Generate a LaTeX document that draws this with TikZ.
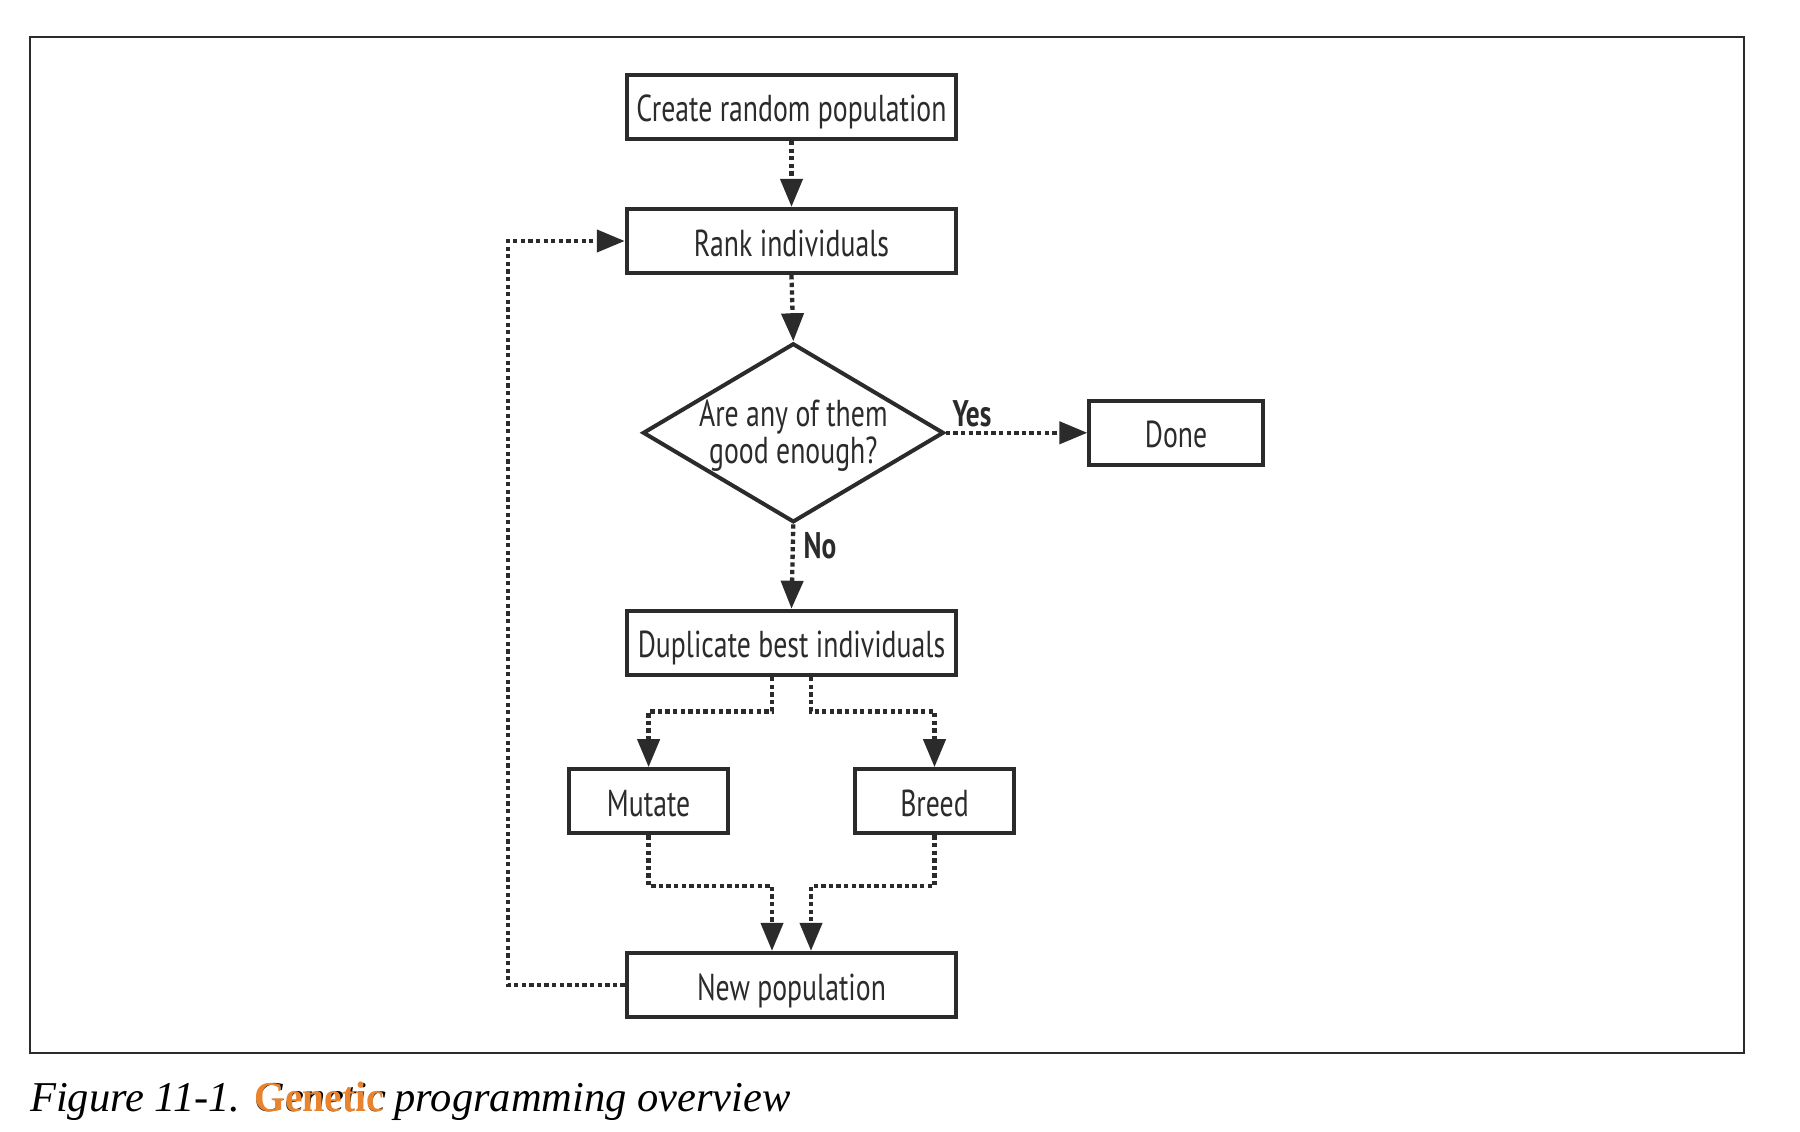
\documentclass[tikz,border=0pt]{standalone}
\usepackage{fontspec}
\usepackage{graphicx}
\setmainfont{Liberation Serif}
\newfontfamily\boxfont{PT Sans}
\usetikzlibrary{arrows.meta,shapes.geometric,calc}
\definecolor{ink}{HTML}{2B2B2B}
\definecolor{orng}{HTML}{E8832E}
\newcommand\condtxt[1]{\scalebox{0.74}[1]{#1}}
\tikzset{
  box/.style={draw=ink, line width=4pt, fill=white, inner sep=0pt,
    minimum height=64.3pt, text height=33pt, text depth=3pt, text=ink,
    font=\boxfont\fontsize{37.5}{38}\selectfont},
  decision/.style={draw=ink, line width=4pt, fill=white, shape=diamond, aspect=1.7, inner sep=0pt,
    minimum width=301pt, minimum height=179pt, text=ink,
    font=\boxfont\fontsize{37.5}{36.7}\selectfont},
  conn/.style={draw=ink, line width=4.3pt, dash pattern=on 4.3pt off 3.3pt,
    -{Triangle[width=22pt,length=28pt]}},
  lbl/.style={text=ink, font=\boxfont\bfseries\fontsize{37}{38}\selectfont, inner sep=0pt},
}
\begin{document}
\begin{tikzpicture}[x=1pt,y=-1pt]
\useasboundingbox (0,0) rectangle (1800,1132);
\fill[white] (0,0) rectangle (1800,1132);
\draw[line width=2pt, draw=ink] (29.8,36.7) rectangle (1743.7,1052.7);

\node[box, minimum width=329.5pt] (create) at (791.5,106.8) {\condtxt{Create random population}};
\node[box, minimum width=329.5pt] (rank) at (791.5,241) {\condtxt{Rank individuals}};
\node[decision] (dec) at (793.3,432.8) {\raisebox{-31pt}[0pt][0pt]{\begin{tabular}[b]{@{}c@{}}\condtxt{Are any of them}\\\condtxt{good enough?}\end{tabular}}};
\node[box, minimum width=173.3pt] (done) at (1176,432.8) {\condtxt{Done}};
\node[box, minimum width=329.5pt] (dup) at (791.5,642.9) {\condtxt{Duplicate best individuals}};
\node[box, minimum width=158.4pt] (mutate) at (648.6,801.3) {\condtxt{Mutate}};
\node[box, minimum width=158.4pt] (breed) at (934.5,801.3) {\condtxt{Breed}};
\node[box, minimum width=329.5pt] (newpop) at (791.5,985) {\condtxt{New population}};

\draw[conn] (create.south) -- (rank.north);
\draw[conn] (rank.south) -- (dec.north);
\draw[conn] (dec.east) -- (done.west);
\draw[conn] (dec.south) -- (dup.north);
\draw[conn] ($(dup.south)+(-19.5,0)$) -- ++(0,34.5) -| (mutate.north);
\draw[conn] ($(dup.south)+(19.5,0)$) -- ++(0,34.5) -| (breed.north);
\draw[conn] (mutate.south) -- ++(0,50.6) -| ($(newpop.north)+(-19.5,0)$);
\draw[conn] (breed.south) -- ++(0,50.6) -| ($(newpop.north)+(19.5,0)$);
\draw[conn] (newpop.west) -- ++(-117,0) |- (rank.west);

\node[lbl] (yes) at (972,414) {\condtxt{Yes}};
\node[lbl] (no) at (820,546) {\condtxt{No}};

\node[anchor=base west, inner sep=0pt, font=\fontsize{42.5}{46}\selectfont\itshape, text=black] (caption) at (30,1111)
  {Figure 11-1. \rlap{Genetic}{\color{orng}\upshape\bfseries\scalebox{0.93}[1]{Genetic}} programming overview};
\end{tikzpicture}
\end{document}
